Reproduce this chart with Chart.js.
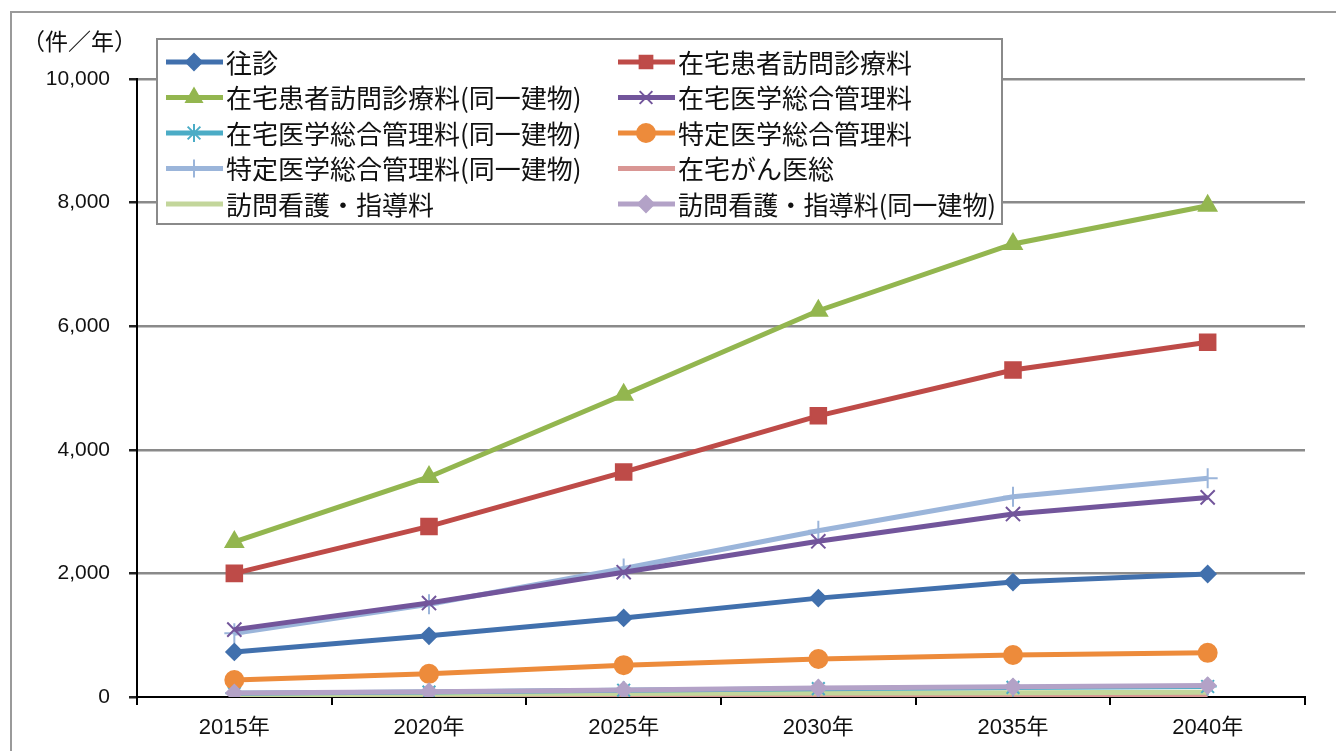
<!DOCTYPE html>
<html>
<head>
<meta charset="utf-8">
<script src="https://cdn.jsdelivr.net/npm/chart.js@4/dist/chart.umd.min.js"></script>
<style>
  body { margin: 0; background: #fff; }
  #wrap { position: relative; width: 1336px; height: 751px; }
</style>
</head>
<body>
<div id="wrap"><canvas id="chart" width="1336" height="751"></canvas></div>
<script>
// years on the x axis
const years = ['2015年', '2020年', '2025年', '2030年', '2035年', '2040年'];

// series (件/年)
const oushin        = [730, 990, 1280, 1600, 1860, 1990];
const houmon        = [2000, 2760, 3640, 4550, 5290, 5740];
const houmonDouitsu = [2510, 3560, 4890, 6250, 7330, 7950];
const zaitaku       = [1090, 1520, 2020, 2520, 2960, 3230];
const zaitakuDouitsu= [60, 80, 110, 135, 155, 170];
const tokutei       = [275, 375, 515, 615, 680, 715];
const tokuteiDouitsu= [1030, 1500, 2080, 2690, 3240, 3540];
const gan           = [15, 20, 25, 30, 30, 35];
const kango         = [35, 45, 55, 65, 70, 75];
const kangoDouitsu  = [65, 85, 115, 145, 165, 185];

const yTicks = [0, 2000, 4000, 6000, 8000, 10000];

function series(label, data, color, style, radius, order) {
    return {
        label: label,
        data: data,
        borderColor: color,
        backgroundColor: color,
        borderWidth: 5,
        pointStyle: style,
        pointRadius: radius,
        pointBorderWidth: 2,
        pointBackgroundColor: color,
        pointBorderColor: color,
        tension: 0,
        order: order || 0
    };
}

// white legend box laid over the plot, drawn by hand like the Excel one
const legendBox = {
    id: 'legendBox',
    afterDatasetsDraw(chart) {
        const ctx = chart.ctx;
        ctx.save();
        ctx.fillStyle = '#fff';
        ctx.fillRect(157, 39, 845, 185);
        ctx.strokeStyle = '#8a8a8a';
        ctx.lineWidth = 2;
        ctx.strokeRect(157, 39, 845, 185);

        chart.data.datasets.forEach((ds, i) => {
            const col = i % 2;
            const row = Math.floor(i / 2);
            const x = col ? 618 : 166;
            const y = 62 + row * 35.5;
            ctx.strokeStyle = ds.borderColor;
            ctx.fillStyle = ds.borderColor;
            ctx.lineWidth = 5;
            ctx.beginPath();
            ctx.moveTo(x, y);
            ctx.lineTo(x + 57, y);
            ctx.stroke();
            if (ds.pointRadius > 0 && Chart.helpers && Chart.helpers.drawPoint) {
                ctx.lineWidth = 2;
                Chart.helpers.drawPoint(ctx, {
                    pointStyle: ds.pointStyle,
                    radius: Math.min(ds.pointRadius, 9),
                    rotation: 0,
                    borderWidth: 2
                }, x + 28, y);
            }
            ctx.fillStyle = '#111';
            ctx.font = '26px "Noto Sans CJK JP"';
            ctx.textBaseline = 'middle';
            ctx.textAlign = 'left';
            ctx.fillText(ds.label, x + 60, y + 1, col ? 318 : 370);
        });
        ctx.restore();
    }
};

// outer frame and unit label
const frame = {
    id: 'frame',
    beforeDraw(chart) {
        const ctx = chart.ctx;
        ctx.save();
        ctx.strokeStyle = '#9a9a9a';
        ctx.lineWidth = 2;
        ctx.beginPath();
        ctx.moveTo(11, 760);
        ctx.lineTo(11, 12);
        ctx.lineTo(1340, 12);
        ctx.stroke();
        ctx.fillStyle = '#111';
        ctx.font = '23px "Noto Sans CJK JP"';
        ctx.textBaseline = 'middle';
        ctx.fillText('（件／年）', 22, 41);
        ctx.restore();
    }
};

const ctx = document.getElementById('chart').getContext('2d');
new Chart(ctx, {
    type: 'line',
    data: {
        labels: years,
        datasets: [
            series('往診', oushin, '#4170AD', 'rectRot', 8),
            series('在宅患者訪問診療料', houmon, '#BE4B48', 'rect', 11),
            series('在宅患者訪問診療料(同一建物)', houmonDouitsu, '#93B64F', 'triangle', 10),
            series('在宅医学総合管理料', zaitaku, '#72559B', 'crossRot', 10),
            series('在宅医学総合管理料(同一建物)', zaitakuDouitsu, '#4BACC6', 'star', 9, 1),
            series('特定医学総合管理料', tokutei, '#ED8B3B', 'circle', 9),
            series('特定医学総合管理料(同一建物)', tokuteiDouitsu, '#9BB5DA', 'cross', 10),
            series('在宅がん医総', gan, '#D99694', 'circle', 0, 2),
            series('訪問看護・指導料', kango, '#C3D69B', 'circle', 0, 1),
            series('訪問看護・指導料(同一建物)', kangoDouitsu, '#B3A2C7', 'rectRot', 8, -1)
        ]
    },
    options: {
        responsive: false,
        devicePixelRatio: 1,
        animation: false,
        locale: 'en-US',
        layout: { padding: { top: 79, right: 31, left: 0, bottom: 0 } },
        plugins: {
            legend: { display: false },
            tooltip: { enabled: false }
        },
        scales: {
            x: {
                offset: true,
                grid: {
                    offset: true,
                    drawOnChartArea: false,
                    color: '#000',
                    tickLength: 8,
                    lineWidth: 2
                },
                border: { color: '#000', width: 2 },
                ticks: {
                    color: '#111',
                    padding: 10,
                    font: { family: '"Liberation Sans", "Noto Sans CJK JP"', size: 22 }
                },
                afterFit(scale) { scale.height = 54; }
            },
            y: {
                min: 0,
                max: 10000,
                afterBuildTicks(scale) { scale.ticks = yTicks.map(v => ({ value: v })); },
                grid: {
                    color: ctx => ctx.tick && ctx.tick.value === 0 ? 'rgba(0,0,0,0)' : '#8a8a8a',
                    tickColor: '#222',
                    lineWidth: 2.5,
                    tickLength: 8
                },
                border: { color: '#000', width: 2 },
                ticks: {
                    color: '#111',
                    padding: 19,
                    font: { family: '"Liberation Sans", sans-serif', size: 21 }
                },
                afterFit(scale) { scale.width = 137; }
            }
        }
    },
    plugins: [frame, legendBox]
});
</script>
</body>
</html>
